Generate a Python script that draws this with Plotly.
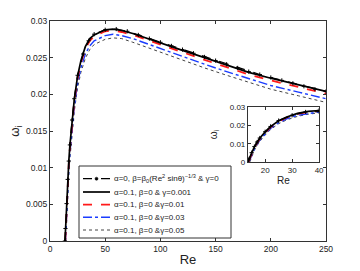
import plotly.graph_objects as go

# ---- data ----
re_a0 = [13.5, 14, 15, 16, 17, 18, 20, 22, 25, 30, 35, 40, 50, 60, 70, 80, 90, 100, 110, 120,
         130, 140, 150, 160, 170, 180, 190, 200, 210, 220, 230, 240, 250]
w_a0 = [0.0, 0.0017, 0.0051, 0.0084, 0.0109, 0.0131, 0.0165, 0.0194, 0.0226, 0.0255, 0.0273,
        0.0282, 0.0288, 0.0289, 0.0286, 0.0281, 0.0276, 0.0271, 0.0266, 0.0261, 0.0256, 0.0251,
        0.0246, 0.0241, 0.0236, 0.0231, 0.0227, 0.0223, 0.0219, 0.0215, 0.0211, 0.0207, 0.0204]

re_g001 = [13.6, 14, 15, 16, 17, 18, 20, 22, 25, 28, 32, 36, 40, 45, 50, 57, 65, 75, 90, 100,
           120, 140, 160, 180, 200, 225, 250]
w_g001 = [0.0, 0.0015, 0.0050, 0.0083, 0.0108, 0.0130, 0.0164, 0.0193, 0.0225, 0.0246, 0.0265,
          0.0276, 0.0281, 0.0285, 0.0288, 0.0289, 0.0287, 0.0283, 0.0275, 0.0270, 0.0260, 0.0250,
          0.0240, 0.0230, 0.0222, 0.0213, 0.0204]

re_g01 = [13.8, 14, 15, 16, 17, 18, 20, 22, 25, 28, 32, 36, 40, 45, 50, 57, 65, 75, 90, 100,
          120, 140, 160, 180, 200, 225, 250]
w_g01 = [0.0, 0.0008, 0.0045, 0.0078, 0.0104, 0.0126, 0.0160, 0.0190, 0.0222, 0.0243, 0.0262,
         0.0273, 0.0279, 0.0283, 0.0286, 0.0287, 0.0285, 0.0281, 0.0273, 0.0268, 0.0257, 0.0247,
         0.0237, 0.0227, 0.0219, 0.0210, 0.0201]

re_g03 = [14.0, 15, 16, 17, 18, 20, 22, 25, 28, 32, 36, 40, 45, 50, 57, 65, 75, 90, 100,
          120, 140, 160, 180, 200, 225, 250]
w_g03 = [0.0, 0.0038, 0.0071, 0.0097, 0.0119, 0.0153, 0.0183, 0.0215, 0.0236, 0.0255, 0.0266,
         0.0273, 0.0277, 0.0280, 0.0282, 0.0280, 0.0276, 0.0268, 0.0262, 0.0251, 0.0241, 0.0231,
         0.0221, 0.0212, 0.0203, 0.0194]

re_g05 = [14.3, 15, 16, 17, 18, 20, 22, 25, 28, 32, 36, 40, 45, 50, 57, 65, 75, 90, 100,
          120, 140, 160, 180, 200, 225, 250]
w_g05 = [0.0, 0.0030, 0.0064, 0.0090, 0.0112, 0.0147, 0.0177, 0.0209, 0.0230, 0.0249, 0.0261,
         0.0268, 0.0272, 0.0275, 0.0277, 0.0276, 0.0271, 0.0263, 0.0257, 0.0246, 0.0236, 0.0226,
         0.0216, 0.0207, 0.0198, 0.0189]

names = [
    "α=0, β=β<sub>0</sub>(Re<sup>2</sup> sinθ)<sup>−1/3</sup> & γ=0",
    "α=0.1, β=0 & γ=0.001",
    "α=0.1, β=0 &γ=0.01",
    "α=0.1, β=0 &γ=0.03",
    "α=0.1, β=0 &γ=0.05",
]

main_ticks_x = [0, 50, 100, 150, 200, 250]
main_ticks_y = [0, 0.005, 0.01, 0.015, 0.02, 0.025, 0.03]
main_ticklabels_y = ["0", "0.005", "0.01", "0.015", "0.02", "0.025", "0.03"]
inset_ticks_x = [20, 30, 40]
inset_ticks_y = [0, 0.01, 0.02, 0.03]
inset_ticklabels_y = ["0", "0.01", "0.02", "0.03"]

FONT = "Liberation Sans, Arial, sans-serif"

styles = [
    dict(line=dict(color="black", width=1.2, dash="dash"),
         marker=dict(symbol="cross-thin-open", size=3, color="black",
                     line=dict(width=1, color="black"))),
    dict(line=dict(color="black", width=1.7), marker=None),
    dict(line=dict(color="#ff1a1a", width=1.8, dash="dash"), marker=None),
    dict(line=dict(color="#1a3cff", width=1.4, dash="dashdot"), marker=None),
    dict(line=dict(color="#444444", width=1, dash="dot"), marker=None),
]
data = [(re_a0, w_a0), (re_g001, w_g001), (re_g01, w_g01), (re_g03, w_g03), (re_g05, w_g05)]

fig = go.Figure()
draw_order = [4, 3, 2, 1, 0]
for axes in [("x", "y"), ("x2", "y2")]:
    for i in draw_order:
        x, y = data[i]
        st = styles[i]
        fig.add_trace(go.Scatter(
            x=x, y=y, name=names[i], showlegend=False,
            mode="lines+markers" if st["marker"] else "lines",
            line=st["line"], marker=st["marker"], xaxis=axes[0], yaxis=axes[1]))

axis_common = dict(showline=True, linecolor="#333", linewidth=1, mirror="ticks", ticks="inside",
                   ticklen=3, tickcolor="#333", showgrid=False, zeroline=False, automargin=False)

# page has an 8px body margin: figure is shrunk so the plot area lands at (50,21)-(326,241)
fig.update_layout(
    width=352, height=263,
    margin=dict(l=42, r=34, t=13, b=30),
    paper_bgcolor="white", plot_bgcolor="white",
    font=dict(family=FONT, color="#222"),
    showlegend=False,
    xaxis=dict(range=[0, 250], tickvals=main_ticks_x, tickfont=dict(size=8.5),
               title=dict(text="Re", font=dict(size=13), standoff=1), **axis_common),
    yaxis=dict(range=[0, 0.03], tickvals=main_ticks_y, ticktext=main_ticklabels_y,
               tickfont=dict(size=8.5),
               title=dict(text="ω<sub>i</sub>", font=dict(size=12), standoff=8), **axis_common),
    xaxis2=dict(domain=[0.717, 0.975], anchor="y2", range=[13.6, 40], tickvals=inset_ticks_x,
                tickfont=dict(size=8),
                title=dict(text="Re", font=dict(size=10), standoff=0), **axis_common),
    yaxis2=dict(domain=[0.359, 0.609], anchor="x2", range=[0, 0.03], tickvals=inset_ticks_y,
                ticktext=inset_ticklabels_y, tickfont=dict(size=8),
                title=dict(text="ω<sub>i</sub>", font=dict(size=10), standoff=10), **axis_common),
)

# ---- hand-built legend (compact, MATLAB style) ----
def px_x(px):
    return (px - 50) / 276.0

def px_y(py):
    return (241 - py) / 220.0

shapes = [dict(type="rect", xref="paper", yref="paper", x0=px_x(79), x1=px_x(231),
               y0=px_y(238), y1=px_y(166), fillcolor="white", line=dict(color="#333", width=1))]
annotations = []
rows = [178.7, 192.0, 204.7, 217.3, 230.0]
for i, ry in enumerate(rows):
    ln = styles[i]["line"]
    shapes.append(dict(type="line", xref="paper", yref="paper", x0=px_x(83), x1=px_x(110),
                       y0=px_y(ry), y1=px_y(ry),
                       line=dict(color=ln["color"], width=ln["width"], dash=ln.get("dash", "solid"))))
    annotations.append(dict(xref="paper", yref="paper", x=px_x(112), y=px_y(ry), text=names[i],
                            showarrow=False, xanchor="left", yanchor="middle",
                            font=dict(size=8, family=FONT, color="#222")))
shapes.append(dict(type="circle", xref="paper", yref="paper", x0=px_x(95), x1=px_x(98),
                   y0=px_y(rows[0] + 1.5), y1=px_y(rows[0] - 1.5), fillcolor="black",
                   line=dict(color="black", width=0.5)))
fig.update_layout(shapes=shapes, annotations=annotations)

fig.write_html("out.html")
